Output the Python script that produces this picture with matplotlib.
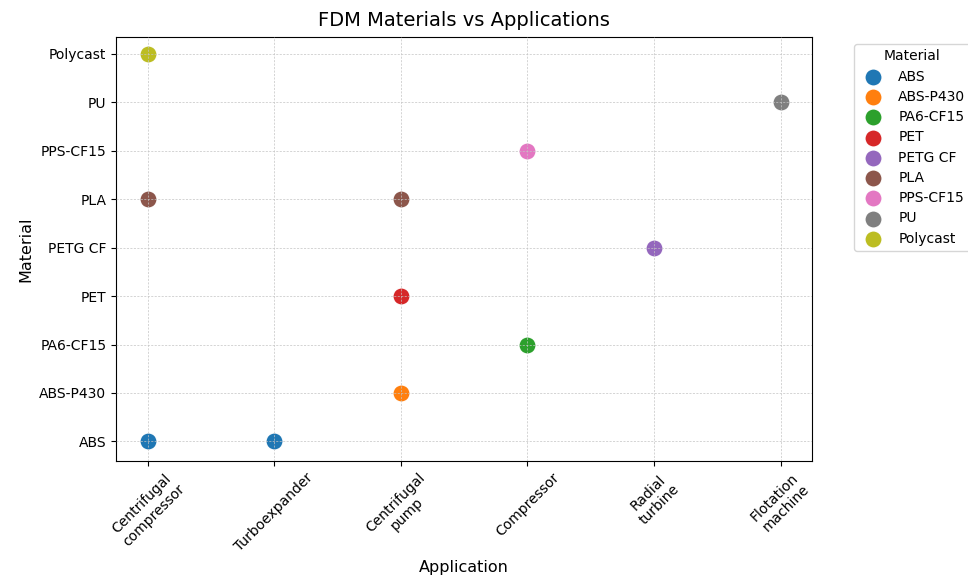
import matplotlib
matplotlib.use("Agg")
import matplotlib.pyplot as plt

materials = ["ABS", "ABS-P430", "PA6-CF15", "PET", "PETG CF", "PLA", "PPS-CF15", "PU", "Polycast"]
applications = ["Centrifugal\ncompressor", "Turboexpander", "Centrifugal\npump", "Compressor",
                "Radial\nturbine", "Flotation\nmachine"]
point_material = ["ABS", "ABS", "ABS-P430", "PA6-CF15", "PET", "PETG CF", "PLA", "PLA",
                  "PPS-CF15", "PU", "Polycast"]
point_application = ["Centrifugal\ncompressor", "Turboexpander", "Centrifugal\npump", "Compressor",
                     "Centrifugal\npump", "Radial\nturbine", "Centrifugal\ncompressor",
                     "Centrifugal\npump", "Compressor", "Flotation\nmachine",
                     "Centrifugal\ncompressor"]
colors = ["#1f77b4", "#ff7f0e", "#2ca02c", "#d62728", "#9467bd", "#8c564b", "#e377c2",
          "#7f7f7f", "#bcbd22"]

fig = plt.figure(figsize=(9.68, 5.76), dpi=100)
ax = fig.add_axes([0.12, 0.2, 0.719, 0.736])

for m, c in zip(materials, colors):
    xs = [applications.index(a) for mm, a in zip(point_material, point_application) if mm == m]
    ys = [materials.index(m)] * len(xs)
    ax.scatter(xs, ys, s=150, color=c, edgecolor="white", linewidth=0.8, label=m, zorder=2)

ax.set_xticks(range(len(applications)))
ax.set_xticklabels(applications, rotation=45, fontsize=10)
ax.set_yticks(range(len(materials)))
ax.set_yticklabels(materials, fontsize=10)
ax.set_xlim(-0.25, len(applications) - 1 + 0.25)
ax.set_ylim(-0.4, len(materials) - 1 + 0.35)
ax.grid(True, linestyle=(0, (3, 2)), linewidth=0.5, color="#c4c4c4", zorder=3)
ax.set_axisbelow(False)
ax.set_title("FDM Materials vs Applications", fontsize=14, pad=8)
ax.set_xlabel("Application", fontsize=11.5, labelpad=4)
ax.set_ylabel("Material", fontsize=11.5)
ax.legend(title="Material", bbox_to_anchor=(1.05, 1), loc="upper left", fontsize=10,
          title_fontsize=10, labelspacing=0.45)

fig.savefig("out.png", dpi=100)
